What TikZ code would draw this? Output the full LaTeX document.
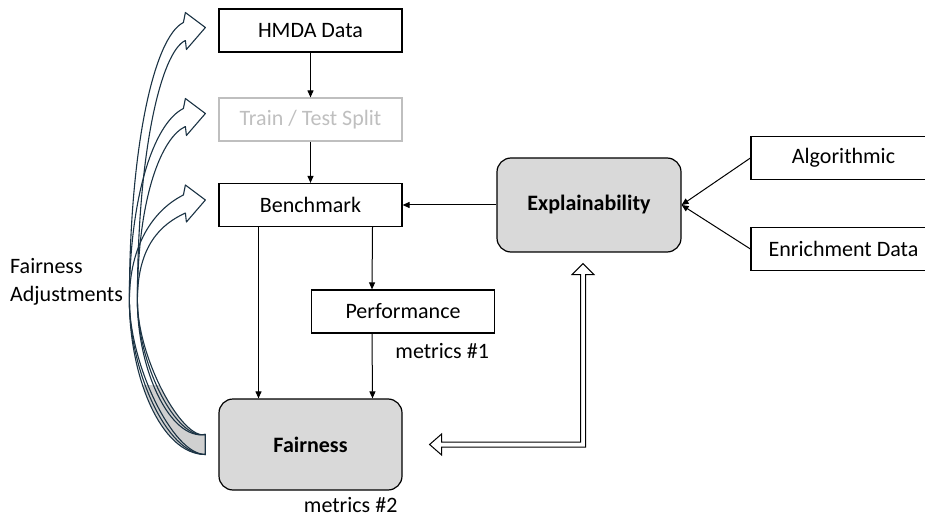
\documentclass[tikz,border=0pt]{standalone}
\usepackage{fontspec}
\setmainfont{Carlito}
\usetikzlibrary{positioning,arrows.meta,calc}
\definecolor{boxgray}{HTML}{D9D9D9}
\definecolor{splitgray}{HTML}{BFBFBF}
\definecolor{adjnavy}{HTML}{1B3344}
\definecolor{tailgray}{HTML}{D0D0D0}

% outline of one adjustment arrow, from head (h) down to tail (t)
\newcommand{\adjarrow}{($(h)+(-22,-5)$) .. controls ($(h)+(-52,10)$) and ($(mo)!0.55!(mo |- h)$) .. (mo)
  .. controls ($(mo)+(0,75-\k)$) and ($(t)+(-45+\k,10)$) .. ($(t)+(0,10)$) -- ($(t)+(0,-10)$)
  .. controls ($(t)+(-35+\k,-4)$) and ($(mi)+(0,70-\k)$) .. (mi)
  .. controls ($(mi)!0.55!(mi |- h)$) and ($(h)+(-44,24)$) .. ($(h)+(-20,13)$)
  -- ($(h)+(-19,22)$) -- (h) -- ($(h)+(-20,-15)$) -- cycle}

\begin{document}
\begin{tikzpicture}[x=1pt,y=-1pt,font=\fontsize{22}{28}\selectfont,
    box/.style={draw, line width=1.2pt, minimum width=183pt, minimum height=43pt, inner sep=2pt},
    roundbox/.style={box, rounded corners=14pt, fill=boxgray, font=\fontsize{22}{28}\selectfont\bfseries},
    arr/.style={-{Triangle[length=7pt,width=6pt]}, line width=1pt},
    adj/.style={draw=adjnavy, line width=1.1pt, line join=round}]
    \useasboundingbox (0,0) rectangle (925,518);
    %Nodes
    \node[box]      (hmda)  at (310.5,30.5)  {HMDA Data};
    \node[box, draw=splitgray, text=splitgray] (tts) at (310.5,119.5) {Train / Test Split};
    \node[box]      (bench) at (310.5,205)   {Benchmark};
    \node[roundbox, minimum width=184pt, minimum height=94pt] (expl) at (589,205) {Explainability};
    \node[box, minimum width=185pt] (algo) at (843.5,158) {Algorithmic};
    \node[box, minimum width=185pt] (enr)  at (843.5,249) {Enrichment Data};
    \node[box]      (perf)  at (403,311.5)   {Performance};
    \node[roundbox, minimum height=91pt] (fair) at (310.5,444.5) {Fairness};
    \node[inner sep=0] (met1) [below left=10pt and 6pt of perf.south east] {metrics \#1};
    \node[inner sep=0] (met2) [below left=7pt and 5pt of fair.south east] {metrics \#2};
    \node[align=left, anchor=west, inner sep=0] (fadj) at (10,282) {Fairness\\Adjustments};
    %Lines
    \draw[arr] (hmda) -- (tts);
    \draw[arr] (tts) -- (bench);
    \draw[arr] (expl) -- (bench);
    \draw[arr] (algo.west) -- (expl.east);
    \draw[arr] (enr.west) -- (expl.east);
    \draw[arr] ([xshift=-52pt]bench.south) -- ([xshift=-52pt]fair.north);
    \draw[arr] ([xshift=62pt]bench.south) -- ([xshift=-31pt]perf.north);
    \draw[arr] ([xshift=-31pt]perf.south) -- ([xshift=62pt]fair.north);
    %Double arrow
    \coordinate (dl) at ([xshift=27pt]fair.east);
    \coordinate (du) at ([shift={(-6,11)}]expl.south);
    \coordinate (dc) at (du |- dl);
    \draw[line width=1pt, fill=white] (dl) -- ++(12,-10.5) -- ++(0,8) -- ($(dc)+(-2.5,-2.5)$)
        -- ($(du)+(-2.5,11)$) -- ++(-8.5,0) -- (du) -- ++(11,11) -- ++(-8.5,0)
        -- ($(dc)+(2.5,2.5)$) -- ($(dl)+(12,2.5)$) -- ++(0,8) -- cycle;
    %Adjustment arrows
    \coordinate (t)  at ([xshift=-13pt]fair.west);
    \coordinate (mi) at ($(t)+(-68,-144)$);
    \coordinate (mo) at ($(t)+(-76,-144)$);
    \begin{scope}
        \clip (100,385) rectangle (215,470);
        \foreach \b/\dy/\k in {hmda/3/0, tts/6/6, bench/5/12} {
            \coordinate (h) at ([shift={(-13,-\dy)}]\b.west);
            \fill[tailgray] \adjarrow;
        }
    \end{scope}
    \foreach \b/\dy/\k in {hmda/3/0, tts/6/6, bench/5/12} {
        \coordinate (h) at ([shift={(-13,-\dy)}]\b.west);
        \draw[adj] \adjarrow;
    }
\end{tikzpicture}
\end{document}
